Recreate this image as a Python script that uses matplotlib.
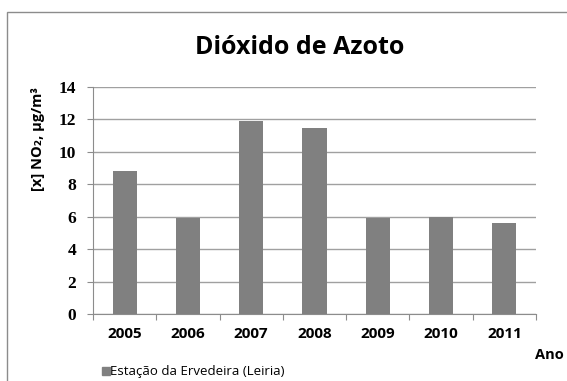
import matplotlib
matplotlib.use("Agg")
import matplotlib.pyplot as plt
from matplotlib.patches import Rectangle

# NO2 annual averages
years = ["2005", "2006", "2007", "2008", "2009", "2010", "2011"]
no2 = [8.8, 5.9, 11.9, 11.5, 5.9, 6.0, 5.6]
station = "Estação da Ervedeira (Leiria)"
yticks = [0, 2, 4, 6, 8, 10, 12, 14]

bar_color = "#808080"
grid_color = "#a0a0a0"
sans = ["Open Sans", "DejaVu Sans"]

fig = plt.figure(figsize=(5.67, 3.81), dpi=100)
fig.patch.set_facecolor("white")

# chart frame
fig.patches.append(Rectangle((7 / 567, -0.1), 1.1, 1 - 12 / 381 + 0.1,
                             transform=fig.transFigure, fill=False,
                             edgecolor="#8c8c8c", linewidth=1.0))

ax = fig.add_axes([93 / 567, 1 - 314 / 381, (536 - 93) / 567, (314 - 87) / 381])
x = range(len(years))
ax.bar(x, no2, width=0.38, color=bar_color, zorder=3)

ax.set_ylim(0, 14)
ax.set_xlim(-0.5, len(years) - 0.5)
ax.set_yticks(yticks)
ax.set_yticklabels([str(v) for v in yticks], fontfamily="Liberation Serif",
                   fontweight="bold", fontsize=12.5)
ax.yaxis.grid(True, color=grid_color, linewidth=1.0, zorder=0)
ax.set_xticks([i + 0.5 for i in range(-1, len(years))], minor=False)
ax.set_xticklabels([])
ax.set_xticks(list(x), minor=True)
ax.set_xticklabels(years, minor=True, fontfamily=sans,
                   fontweight="bold", fontsize=11)
ax.tick_params(axis="x", which="major", length=4, color="#8c8c8c", direction="out")
ax.tick_params(axis="x", which="minor", length=0, pad=9)
ax.tick_params(axis="y", length=4, color="#8c8c8c", pad=8)

for side in ["top", "right"]:
    ax.spines[side].set_visible(False)
for side in ["left", "bottom"]:
    ax.spines[side].set_color("#8c8c8c")

fig.text(38 / 567, 1 - 139 / 381, "[x] NO₂, µg/m³", rotation=90,
         ha="center", va="center", fontfamily=sans, fontweight="bold",
         fontsize=10.5)

fig.text(300 / 567, 1 - 48 / 381, "Dióxido de Azoto", ha="center", va="center",
         fontfamily=sans, fontweight="bold", fontsize=18)
fig.text(549 / 567, 1 - 355 / 381, "Ano", ha="center", va="center",
         fontfamily=sans, fontweight="bold", fontsize=10.5)

# legend
fig.patches.append(Rectangle((102 / 567, 1 - 375 / 381), 8 / 567, 8 / 381,
                             transform=fig.transFigure, color=bar_color))
fig.text(110 / 567, 1 - 372 / 381, station, ha="left", va="center",
         fontfamily=sans, fontsize=9.5)

fig.savefig("out.png", dpi=100)
